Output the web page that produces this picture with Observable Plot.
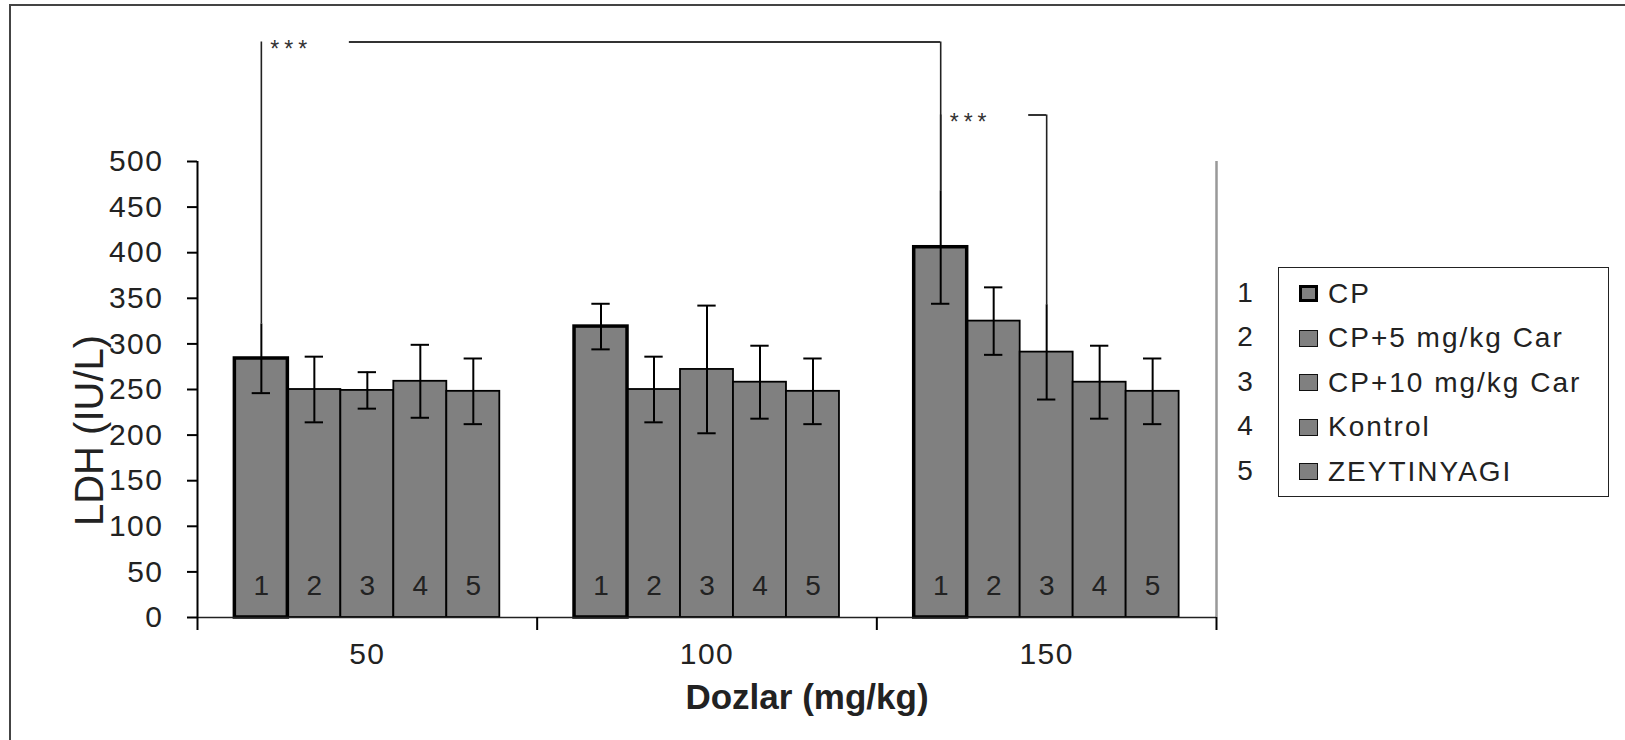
<!DOCTYPE html>
<html>
<head>
<meta charset="utf-8">
<script src="https://cdn.jsdelivr.net/npm/d3@7"></script>
<script src="https://cdn.jsdelivr.net/npm/@observablehq/plot@0.6"></script>
<style>
html, body { margin: 0; padding: 0; background: #fff; overflow: hidden; width: 1625px; height: 740px; }
#page { position: relative; width: 1625px; height: 740px; font-family: "Liberation Sans", Arial, sans-serif; color: #222; }
#border { position: absolute; left: 9px; top: 4px; width: 1700px; height: 800px; border: 2px solid #444; box-sizing: border-box; }
#chart { position: absolute; left: 0; top: 0; }
#legend { position: absolute; left: 1278px; top: 267px; width: 331px; height: 230px; border: 1.5px solid #222; box-sizing: border-box; }
.row { position: absolute; left: 0; height: 30px; display: flex; align-items: center; font-size: 28px; letter-spacing: 2px; color: #222; white-space: nowrap; }
.sw { width: 19px; height: 17px; background: #808080; border: 1.5px solid #111; box-sizing: border-box; margin-left: 20px; margin-right: 10px; flex: none; }
.sw.thick { border: 3px solid #000; }
.num { position: absolute; font-size: 28px; color: #222; transform: translate(-50%, -50%); }
svg [aria-label="y-axis tick label"] text, svg [aria-label="x-axis tick label"] text { letter-spacing: 1.5px; }
</style>
</head>
<body>
<div id="page">
  <div id="border"></div>
  <div id="chart"></div>
  <div id="legend"></div>
  <div id="nums"></div>
</div>
<script>
// ---- data ----
const doses = ["50", "100", "150"];
const series = ["CP", "CP+5 mg/kg Car", "CP+10 mg/kg Car", "Kontrol", "ZEYTINYAGI"];
const seriesNumbers = ["1", "2", "3", "4", "5"];
const means50  = [284, 250, 249, 259, 248];
const means100 = [319, 250, 272, 258, 248];
const means150 = [406, 325, 291, 258, 248];
const err50  = [38, 36, 20, 40, 36];
const err100 = [25, 36, 70, 40, 36];
const err150 = [62, 37, 52, 40, 36];
const yTicks = [0, 50, 100, 150, 200, 250, 300, 350, 400, 450, 500];
const yLabel = "LDH (IU/L)";
const xLabel = "Dozlar (mg/kg)";
const sigFrom  = [["50", "CP"], ["150", "CP"]];
const sigTo    = [["150", "CP"], ["150", "CP+10 mg/kg Car"]];
const sigLevel = [631, 551];
const sigText  = ["***", "***"];

// ---- layout within each dose group (fractions of the group band) ----
const BW = 0.156;
const PAD = (1 - series.length * BW) / 2;
const CAP = 0.027;

const meansByDose = [means50, means100, means150];
const errByDose = [err50, err100, err150];

const bars = doses.flatMap((dose, g) => series.map((s, i) => ({
  dose, series: s, num: seriesNumbers[i],
  mean: meansByDose[g][i], err: errByDose[g][i],
  x1: g + PAD + i * BW, x2: g + PAD + (i + 1) * BW, xc: g + PAD + (i + 0.5) * BW
})));
const findBar = ([d, s]) => bars.find(b => b.dose === d && b.series === s);

const brackets = sigLevel.map((level, k) => {
  const a = findBar(sigFrom[k]), b = findBar(sigTo[k]);
  return {level, label: sigText[k], fx: a.xc, tx: b.xc, ftop: a.mean + a.err, ttop: b.mean + b.err, a, b};
});
const bracketBars = new Set(brackets.flatMap(d => [d.a, d.b]));
const verticals = brackets.flatMap(d => [{x: d.fx, y1: d.ftop, y2: d.level}, {x: d.tx, y1: d.ttop, y2: d.level}]);

const cpBars = bars.filter(d => d.series === series[0]);
const otherBars = bars.filter(d => d.series !== series[0]);

const chart = Plot.plot({
  width: 1625,
  height: 740,
  marginLeft: 197,
  marginRight: 409,
  marginTop: 161,
  marginBottom: 123,
  x: {type: "linear", domain: [0, doses.length]},
  y: {domain: [0, 500]},
  style: {fontFamily: "Liberation Sans, Arial, sans-serif", color: "#222", background: "transparent"},
  marks: [
    Plot.ruleX([doses.length], {y1: 0, y2: 500, stroke: "#999", strokeWidth: 2.5}),
    Plot.rect(otherBars, {x1: "x1", x2: "x2", y1: 0, y2: "mean", fill: "#808080", stroke: "#000", strokeWidth: 1.8}),
    Plot.rect(cpBars, {x1: "x1", x2: "x2", y1: 0, y2: "mean", fill: "#808080", stroke: "#000", strokeWidth: 3.5}),
    Plot.ruleX(bars, {x: "xc", y1: d => d.mean - d.err, y2: d => d.mean + d.err, stroke: "#000", strokeWidth: 2}),
    Plot.ruleY(bars, {y: d => d.mean - d.err, x1: d => d.xc - CAP, x2: d => d.xc + CAP, stroke: "#000", strokeWidth: 2}),
    Plot.ruleY(bars.filter(d => !bracketBars.has(d)), {y: d => d.mean + d.err, x1: d => d.xc - CAP, x2: d => d.xc + CAP, stroke: "#000", strokeWidth: 2}),
    Plot.text(bars, {x: "xc", y: 0, dy: -31, text: "num", fontSize: 28, fill: "#222", lineAnchor: "middle"}),
    // significance brackets
    Plot.ruleX(verticals, {x: "x", y1: "y1", y2: "y2", stroke: "#222", strokeWidth: 1.6}),
    Plot.ruleY(brackets, {y: "level", x1: "fx", x2: "tx", insetLeft: 88, stroke: "#333", strokeWidth: 2}),
    Plot.text(brackets, {x: "fx", y: "level", text: "label", textAnchor: "start", dx: 9, dy: 8, fontSize: 23, fill: "#333", lineAnchor: "middle"}),
    // axes
    Plot.ruleX([0], {y1: 0, y2: 500, stroke: "#000", strokeWidth: 2}),
    Plot.ruleY([0], {stroke: "#222", strokeWidth: 1.5}),
    Plot.axisY({ticks: yTicks, tickSize: 10, tickPadding: 24, fontSize: 30, label: null, strokeWidth: 2, stroke: "#000", fill: "#222"}),
    Plot.axisX({ticks: d3.range(doses.length + 1), tickSize: 13, tickFormat: () => "", label: null, strokeWidth: 2, stroke: "#000"}),
    Plot.axisX({ticks: doses.map((d, i) => i + 0.5), tickSize: 0, tickPadding: 25, fontSize: 30, label: null, fill: "#222", tickFormat: v => doses[Math.floor(v)]}),
    Plot.text([yLabel], {frameAnchor: "left", textAnchor: "middle", lineAnchor: "middle", rotate: -90, dx: -107, dy: 41, fontSize: 40, fill: "#222"}),
    Plot.text([xLabel], {frameAnchor: "bottom", textAnchor: "middle", lineAnchor: "middle", dx: 100, dy: 80, fontSize: 35, fontWeight: "bold", fill: "#222"})
  ]
});

for (const t of chart.querySelectorAll("text")) {
  if (t.textContent === "***") t.style.letterSpacing = "5px";
}
document.getElementById("chart").appendChild(chart);

// ---- legend ----
const legend = document.getElementById("legend");
const nums = document.getElementById("nums");
const rowCenter0 = 25.5, rowStep = 44.5;
series.forEach((s, i) => {
  const row = document.createElement("div");
  row.className = "row";
  row.style.top = (rowCenter0 + i * rowStep - 15) + "px";
  const sw = document.createElement("span");
  sw.className = "sw" + (i === 0 ? " thick" : "");
  const label = document.createElement("span");
  label.textContent = s;
  row.appendChild(sw);
  row.appendChild(label);
  legend.appendChild(row);
  const n = document.createElement("div");
  n.className = "num";
  n.textContent = seriesNumbers[i];
  n.style.left = "1245px";
  n.style.top = (267 + rowCenter0 + i * rowStep) + "px";
  nums.appendChild(n);
});
</script>
</body>
</html>
